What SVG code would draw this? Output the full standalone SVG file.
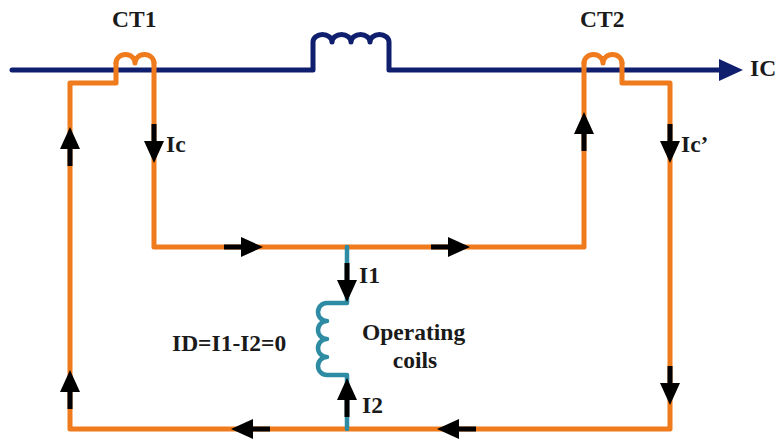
<svg xmlns="http://www.w3.org/2000/svg" width="784" height="441" viewBox="0 0 784 441">
<style>
.navy{fill:none;stroke:#0f1f6e;stroke-width:5;stroke-linecap:round;stroke-linejoin:round}
.or{fill:none;stroke:#ef7b1c;stroke-width:5;stroke-linecap:round;stroke-linejoin:round}
.teal{fill:none;stroke:#2d8ba3;stroke-width:4.5;stroke-linecap:round;stroke-linejoin:round}
.t{font-family:"Liberation Serif","Times New Roman",serif;font-weight:bold;font-size:23.5px;fill:#1a1a1a}
</style>
<defs>
<g id="arr">
<rect x="-39" y="-2.5" width="21" height="5" fill="#000"/>
<polygon points="-22,-10 0,0 -22,10" fill="#000"/>
</g>
</defs>
<rect width="784" height="441" fill="#ffffff"/>
<g id="line">
<path class="navy" d="M12,70 H313 V42 A9.5,7.5 0 0 1 332,42 A9.5,7.5 0 0 1 351,42 A9.5,7.5 0 0 1 370,42 A9.5,7.5 0 0 1 389,42 V70 H722"/>
<polygon points="719,59 743,70 719,81" fill="#0f1f6e"/>
</g>
<g id="connectors">
<path class="or" d="M154,63 V247 H584 V63"/>
<path class="or" d="M116,63 V83 H70 V429 H670 V83 H622 V63"/>
<path class="teal" d="M347,247 V303 H327 A9,9 0 0 0 327,321 A9,9 0 0 0 327,339 A9,9 0 0 0 327,357 A9,9 0 0 0 327,375 H347 V429"/>
</g>
<g id="ct1">
<path class="or" d="M116,63 A9.5,8.5 0 0 1 135,63 A9.5,8.5 0 0 1 154,63"/>
<text class="t" x="112" y="27">CT1</text>
</g>
<g id="ct2">
<path class="or" d="M584,63 A9.5,8.5 0 0 1 603,63 A9.5,8.5 0 0 1 622,63"/>
<text class="t" x="580" y="27">CT2</text>
</g>
<g id="arrows">
<use href="#arr" transform="translate(70,127) rotate(-90)"/>
<use href="#arr" transform="translate(70,370) rotate(-90)"/>
<use href="#arr" transform="translate(154,163) rotate(90)"/>
<use href="#arr" transform="translate(263,247)"/>
<use href="#arr" transform="translate(470,247)"/>
<use href="#arr" transform="translate(584,112) rotate(-90)"/>
<use href="#arr" transform="translate(670,163) rotate(90)"/>
<use href="#arr" transform="translate(670,405) rotate(90)"/>
<use href="#arr" transform="translate(231,429) rotate(180)"/>
<use href="#arr" transform="translate(437,429) rotate(180)"/>
<use href="#arr" transform="translate(347,302) rotate(90)"/>
<use href="#arr" transform="translate(347,378) rotate(-90)"/>
</g>
<g id="labels">
<text class="t" x="750" y="76">IC</text>
<text class="t" x="166" y="152">Ic</text>
<text class="t" x="681" y="152">Ic’</text>
<text class="t" x="359" y="283">I1</text>
<text class="t" x="362" y="413">I2</text>
</g>
<g id="coil">
<text class="t" x="172" y="351">ID=I1-I2=0</text>
<text class="t" x="362" y="340">Operating</text>
<text class="t" x="415" y="368" text-anchor="middle">coils</text>
</g>
</svg>
